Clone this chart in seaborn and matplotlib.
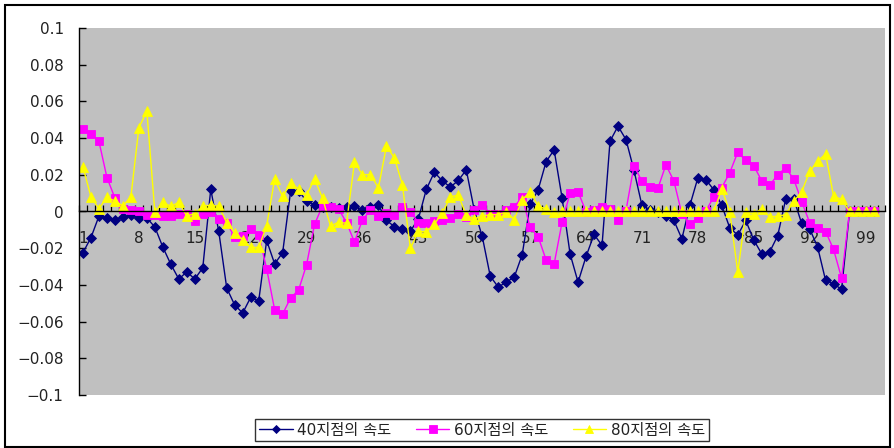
import numpy as np
import pandas as pd
import matplotlib
matplotlib.use("Agg")
import matplotlib.pyplot as plt
from matplotlib.patches import Rectangle
from matplotlib.ticker import FixedLocator
import seaborn as sns

# ---- data -------------------------------------------------------------
series_names = ["40지점의 속도", "60지점의 속도", "80지점의 속도"]

speed_40 = [
    -0.0224, -0.0142, -0.0025, -0.0036, -0.0044, -0.0031, -0.0021, -0.0036, -0.0035, -0.0085,
    -0.0194, -0.0288, -0.0368, -0.0329, -0.0368, -0.0307, 0.0121, -0.0108, -0.0417, -0.0510,
    -0.0553, -0.0468, -0.0489, -0.0158, -0.0285, -0.0225, 0.0110, 0.0113, 0.0056, 0.0036,
    0.0027, 0.0024, 0.0020, 0.0027, 0.0031, 0.0009, 0.0024, 0.0035, -0.0049, -0.0082,
    -0.0098, -0.0107, -0.0040, 0.0121, 0.0214, 0.0167, 0.0133, 0.0169, 0.0227, 0.0008,
    -0.0136, -0.0352, -0.0412, -0.0385, -0.0358, -0.0236, 0.0040, 0.0118, 0.0272, 0.0336,
    0.0073, -0.0231, -0.0385, -0.0245, -0.0125, -0.0185, 0.0383, 0.0465, 0.0392, 0.0225,
    0.0033, 0.0009, -0.0004, -0.0025, -0.0049, -0.0149, 0.0033, 0.0183, 0.0174, 0.0118,
    0.0033, -0.0090, -0.0128, -0.0049, -0.0155, -0.0231, -0.0220, -0.0132, 0.0067, 0.0070,
    -0.0065, -0.0094, -0.0194, -0.0376, -0.0394, -0.0424, 0.0, 0.0, 0.0, 0.0,
]

speed_60 = [
    0.0447, 0.0424, 0.0382, 0.0185, 0.0073, 0.0012, 0.0006, 0.0000, -0.0021, -0.0018,
    -0.0022, -0.0026, -0.0014, -0.0012, -0.0053, -0.0013, -0.0005, -0.0040, -0.0062, -0.0140,
    -0.0133, -0.0093, -0.0126, -0.0312, -0.0535, -0.0559, -0.0471, -0.0428, -0.0290, -0.0070,
    0.0032, 0.0026, 0.0014, -0.0060, -0.0167, -0.0045, 0.0006, -0.0022, -0.0010, -0.0020,
    0.0024, -0.0001, -0.0060, -0.0060, -0.0052, -0.0044, -0.0036, -0.0016, -0.0031, 0.0009,
    0.0038, -0.0013, -0.0013, 0.0009, 0.0025, 0.0080, -0.0087, -0.0137, -0.0265, -0.0287,
    -0.0058, 0.0101, 0.0108, -0.0002, 0.0009, 0.0024, 0.0013, -0.0049, 0.0005, 0.0249,
    0.0165, 0.0132, 0.0127, 0.0254, 0.0166, -0.0013, -0.0067, -0.0035, 0.0003, 0.0080,
    0.0130, 0.0212, 0.0323, 0.0278, 0.0250, 0.0167, 0.0143, 0.0201, 0.0237, 0.0178,
    0.0054, -0.0060, -0.0089, -0.0109, -0.0207, -0.0363, 0.0, 0.0, 0.0, 0.0,
]

speed_80 = [
    0.0242, 0.0079, 0.0015, 0.0079, 0.0056, 0.0031, 0.0080, 0.0457, 0.0546, -0.0004,
    0.0050, 0.0028, 0.0050, -0.0025, -0.0011, 0.0028, 0.0035, 0.0028, -0.0060, -0.0116,
    -0.0153, -0.0196, -0.0196, -0.0078, 0.0176, 0.0082, 0.0153, 0.0124, 0.0089, 0.0178,
    0.0073, -0.0080, -0.0058, -0.0064, 0.0269, 0.0201, 0.0201, 0.0129, 0.0356, 0.0293,
    0.0146, -0.0201, -0.0107, -0.0112, -0.0067, -0.0010, 0.0080, 0.0089, -0.0020, -0.0040,
    -0.0025, -0.0017, -0.0017, -0.0002, -0.0044, 0.0065, 0.0107, 0.0030, 0.0013, -0.0004,
    0.0, 0.0, 0.0, 0.0, 0.0, 0.0, 0.0, 0.0, 0.0, 0.0,
    0.0, 0.0, 0.0, 0.0, 0.0, 0.0, 0.0, 0.0, 0.0, 0.0,
    0.0124, -0.0003, -0.0331, -0.0003, -0.0013, 0.0015, -0.0029, -0.0026, -0.0017, 0.0056,
    0.0107, 0.0218, 0.0274, 0.0314, 0.0082, 0.0067, 0.0, 0.0, 0.0, 0.0,
]

x_tick_labels = ["1", "8", "15", "22", "29", "36", "43", "50", "57", "64", "71", "78", "85", "92", "99"]
y_tick_values = [-0.1, -0.08, -0.06, -0.04, -0.02, 0.0, 0.02, 0.04, 0.06, 0.08, 0.1]
y_tick_labels = ["\u22120.1", "\u22120.08", "\u22120.06", "\u22120.04", "\u22120.02", "0",
                 "0.02", "0.04", "0.06", "0.08", "0.1"]
n_categories = 101

# ---- long-form table ---------------------------------------------------
frames = []
for name, vals in zip(series_names, [speed_40, speed_60, speed_80]):
    frames.append(pd.DataFrame({"계열": name,
                                "지점": np.arange(1, len(vals) + 1),
                                "속도": vals}))
df = pd.concat(frames, ignore_index=True)

# ---- styling -----------------------------------------------------------
sns.set_theme(style="white")
# Latin digits from DejaVu, Hangul falls through to Noto Sans CJK KR
plt.rcParams["font.family"] = ["DejaVu Sans", "Noto Sans CJK KR"]
plt.rcParams["axes.unicode_minus"] = True

colors = {"40지점의 속도": "#000080", "60지점의 속도": "#FF00FF", "80지점의 속도": "#FFFF00"}
markers = {"40지점의 속도": "D", "60지점의 속도": "s", "80지점의 속도": "^"}
msizes = {"40지점의 속도": 4.6, "60지점의 속도": 6.2, "80지점의 속도": 6.6}

fig = plt.figure(figsize=(8.95, 4.48), dpi=100)
fig.patch.set_facecolor("white")
ax = fig.add_axes([79 / 895, 1 - 395 / 448, (885.5 - 79) / 895, (395 - 28) / 448])
ax.set_facecolor("#C0C0C0")

for name in series_names:
    sub = df[df["계열"] == name]
    sns.lineplot(data=sub, x="지점", y="속도", ax=ax, color=colors[name],
                 marker=markers[name], markersize=msizes[name],
                 markeredgecolor=colors[name], markerfacecolor=colors[name],
                 markeredgewidth=0.6, linewidth=1.0, label=name, legend=False)

# axes limits and spines
ax.set_xlim(0.5, n_categories + 0.5)
ax.set_ylim(-0.1, 0.1)
for side in ["top", "right"]:
    ax.spines[side].set_visible(False)
ax.spines["bottom"].set_position(("data", 0))
ax.spines["bottom"].set_color("black")
ax.spines["bottom"].set_linewidth(1.0)
ax.spines["left"].set_color("black")
ax.spines["left"].set_linewidth(1.0)

# y axis
ax.yaxis.set_major_locator(FixedLocator(y_tick_values))
ax.set_yticklabels(y_tick_labels)
ax.tick_params(axis="y", which="major", direction="in", length=5, width=1,
               color="black", labelsize=11, labelcolor="#222222", pad=11, left=True)

# x axis: category boundary ticks, labels every seventh category
label_pos = [int(s) for s in x_tick_labels]
ax.xaxis.set_major_locator(FixedLocator(label_pos))
ax.set_xticklabels(x_tick_labels)
ax.xaxis.set_minor_locator(FixedLocator(np.arange(0.5, n_categories + 1, 1.0)))
ax.tick_params(axis="x", which="major", length=0, labelsize=11,
               labelcolor="#222222", pad=14, bottom=True)
ax.tick_params(axis="x", which="minor", direction="in", length=4, width=0.9,
               color="black", bottom=True)
ax.set_xlabel("")
ax.set_ylabel("")
ax.grid(False)

# legend under the plot
handles, labels = ax.get_legend_handles_labels()
leg = fig.legend(handles, labels, loc="center", bbox_to_anchor=(482 / 895, 1 - 430 / 448),
                 ncol=3, frameon=True, fancybox=False, fontsize=11, handlelength=2.2,
                 handletextpad=0.3, columnspacing=1.6, borderpad=0.25,
                 edgecolor="black", facecolor="white", markerscale=0.85)
leg.get_frame().set_linewidth(1.0)
for t in leg.get_texts():
    t.set_color("#222222")

# chart frame
fig.patches.append(Rectangle((5 / 895, 1 / 448), 885 / 895, 442 / 448,
                             transform=fig.transFigure, fill=False,
                             edgecolor="black", linewidth=1.5))

fig.savefig("out.png", dpi=100, facecolor="white")
